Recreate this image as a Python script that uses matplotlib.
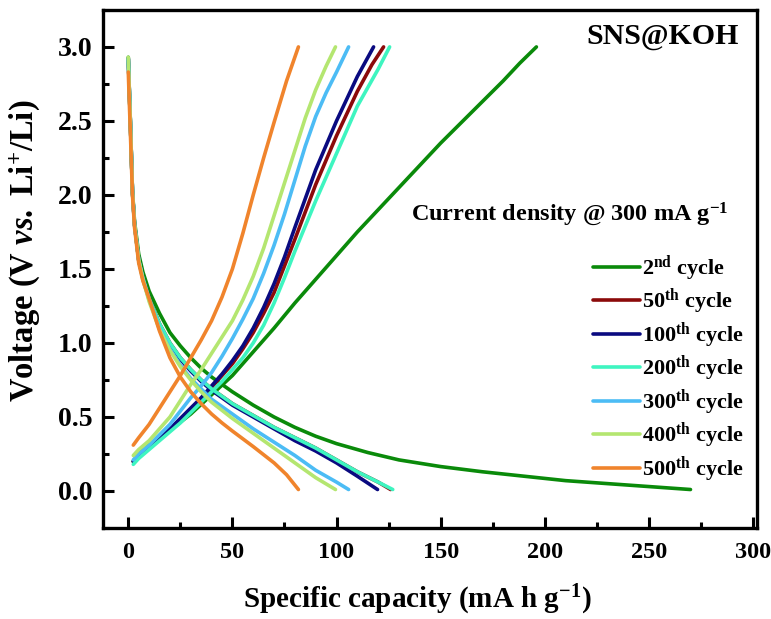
import matplotlib
matplotlib.use('Agg')
import matplotlib.pyplot as plt
from matplotlib.ticker import MultipleLocator

# Galvanostatic charge/discharge profiles, SNS@KOH, 300 mA g-1
labels = [r'2$^{\mathbf{nd}}$ cycle', r'50$^{\mathbf{th}}$ cycle', r'100$^{\mathbf{th}}$ cycle',
          r'200$^{\mathbf{th}}$ cycle', r'300$^{\mathbf{th}}$ cycle', r'400$^{\mathbf{th}}$ cycle',
          r'500$^{\mathbf{th}}$ cycle']
colors = ['#0a8a0a', '#8b0a0a', '#0a0a80', '#3ef5c0', '#4cbcf5', '#b4e670', '#f0842c']

# charge (delithiation) branches: capacity, voltage
chg_cap_2 = [2.4, 5, 10, 20, 30, 40, 50, 60, 70, 80, 90, 100, 110, 120, 130, 140, 150, 160, 170, 180, 188, 196]
chg_v_2 = [0.2, 0.25, 0.31, 0.41, 0.52, 0.65, 0.78, 0.94, 1.1, 1.27, 1.43, 1.59, 1.75, 1.9, 2.05,
           2.2, 2.35, 2.49, 2.63, 2.77, 2.89, 3.0]
chg_cap_50 = [2.4, 5, 10, 15, 20, 25, 30, 35, 40, 45, 50, 55, 60, 65, 70, 75, 80, 90, 100, 110, 117, 122.6]
chg_v_50 = [0.2, 0.24, 0.3, 0.36, 0.42, 0.48, 0.55, 0.62, 0.7, 0.78, 0.86, 0.96, 1.07, 1.2, 1.34,
            1.52, 1.7, 2.07, 2.4, 2.7, 2.88, 3.0]
chg_cap_100 = [2.4, 5, 10, 15, 20, 25, 30, 35, 40, 45, 50, 55, 60, 65, 70, 75, 80, 90, 100, 110, 117.8]
chg_v_100 = [0.2, 0.24, 0.3, 0.36, 0.42, 0.49, 0.56, 0.63, 0.71, 0.79, 0.88, 0.98, 1.1, 1.24, 1.4,
             1.58, 1.78, 2.17, 2.5, 2.8, 3.0]
chg_cap_200 = [2.4, 5, 10, 15, 20, 25, 30, 35, 40, 45, 50, 55, 60, 65, 70, 75, 80, 90, 100, 110, 120, 125.5]
chg_v_200 = [0.18, 0.22, 0.28, 0.34, 0.4, 0.46, 0.53, 0.6, 0.67, 0.74, 0.82, 0.9, 1.0, 1.12, 1.27,
             1.44, 1.62, 1.96, 2.28, 2.6, 2.85, 3.0]
chg_cap_300 = [2.4, 5, 10, 15, 20, 25, 30, 35, 40, 45, 50, 55, 60, 65, 70, 75, 80, 85, 90, 95, 100, 105.8]
chg_v_300 = [0.21, 0.25, 0.31, 0.38, 0.45, 0.54, 0.63, 0.71, 0.8, 0.91, 1.03, 1.16, 1.3, 1.47, 1.66,
             1.87, 2.1, 2.33, 2.53, 2.69, 2.83, 3.0]
chg_cap_400 = [2.4, 5, 10, 15, 20, 25, 30, 35, 40, 45, 50, 55, 60, 65, 70, 75, 80, 85, 90, 95, 99.5]
chg_v_400 = [0.24, 0.28, 0.34, 0.42, 0.5, 0.61, 0.72, 0.82, 0.93, 1.04, 1.15, 1.29, 1.45, 1.64, 1.86,
             2.08, 2.3, 2.52, 2.71, 2.87, 3.0]
chg_cap_500 = [2.4, 5, 10, 15, 20, 25, 30, 35, 40, 45, 50, 55, 60, 65, 70, 76, 81.7]
chg_v_500 = [0.31, 0.36, 0.45, 0.56, 0.67, 0.78, 0.9, 1.02, 1.15, 1.31, 1.5, 1.74, 2.0, 2.25, 2.49,
             2.77, 3.0]

# discharge (lithiation) branches
dis_cap_2 = [0, 0.5, 1, 2, 3, 5, 7, 10, 12, 15, 20, 25, 30, 35, 40, 50, 60, 70, 80, 90, 100, 115,
             130, 150, 170, 190, 210, 230, 250, 270]
dis_v_2 = [2.93, 2.7, 2.49, 2.03, 1.82, 1.6, 1.48, 1.35, 1.29, 1.2, 1.07, 0.98, 0.9, 0.83, 0.77,
           0.67, 0.58, 0.5, 0.43, 0.37, 0.32, 0.26, 0.21, 0.165, 0.13, 0.1, 0.07, 0.05, 0.03, 0.01]
dis_cap_50 = [0, 0.5, 1, 2, 3, 5, 7, 10, 15, 20, 25, 30, 35, 40, 50, 60, 70, 80, 90, 100, 110, 120, 126]
dis_v_50 = [2.92, 2.7, 2.49, 2.02, 1.8, 1.56, 1.44, 1.3, 1.13, 1.0, 0.9, 0.82, 0.75, 0.69, 0.59,
            0.51, 0.43, 0.36, 0.29, 0.21, 0.13, 0.06, 0.01]
dis_cap_100 = [0, 0.5, 1, 2, 3, 5, 7, 10, 15, 20, 25, 30, 35, 40, 50, 60, 70, 80, 90, 100, 110, 119.7]
dis_v_100 = [2.92, 2.7, 2.49, 2.02, 1.8, 1.56, 1.44, 1.3, 1.12, 0.99, 0.89, 0.81, 0.74, 0.68, 0.58,
             0.5, 0.42, 0.34, 0.27, 0.19, 0.1, 0.01]
dis_cap_200 = [0, 0.5, 1, 2, 3, 5, 7, 10, 15, 20, 25, 30, 35, 40, 50, 60, 70, 80, 90, 100, 110, 120, 127]
dis_v_200 = [2.92, 2.7, 2.49, 2.02, 1.8, 1.56, 1.44, 1.3, 1.13, 1.0, 0.9, 0.82, 0.75, 0.69, 0.59,
             0.51, 0.43, 0.36, 0.29, 0.21, 0.13, 0.06, 0.01]
dis_cap_300 = [0, 0.5, 1, 2, 3, 5, 7, 10, 15, 20, 25, 30, 35, 40, 50, 60, 70, 80, 90, 100, 105.8]
dis_v_300 = [2.92, 2.7, 2.49, 2.02, 1.8, 1.56, 1.43, 1.29, 1.1, 0.96, 0.85, 0.76, 0.69, 0.62, 0.52,
             0.42, 0.33, 0.24, 0.14, 0.06, 0.01]
dis_cap_400 = [0, 0.5, 1, 2, 3, 5, 7, 10, 15, 20, 25, 30, 35, 40, 50, 60, 70, 80, 90, 99.5]
dis_v_400 = [2.93, 2.7, 2.49, 2.02, 1.8, 1.56, 1.43, 1.28, 1.09, 0.95, 0.84, 0.75, 0.67, 0.6, 0.49,
             0.39, 0.29, 0.19, 0.09, 0.01]
dis_cap_500 = [0, 0.5, 1, 2, 3, 5, 7, 10, 15, 20, 25, 30, 35, 40, 45, 50, 60, 70, 76, 81.7]
dis_v_500 = [2.83, 2.62, 2.42, 2.0, 1.78, 1.54, 1.42, 1.3, 1.08, 0.9, 0.77, 0.67, 0.59, 0.52, 0.46,
             0.405, 0.3, 0.19, 0.11, 0.01]

charge = [(chg_cap_2, chg_v_2), (chg_cap_50, chg_v_50), (chg_cap_100, chg_v_100),
          (chg_cap_200, chg_v_200), (chg_cap_300, chg_v_300), (chg_cap_400, chg_v_400),
          (chg_cap_500, chg_v_500)]
discharge = [(dis_cap_2, dis_v_2), (dis_cap_50, dis_v_50), (dis_cap_100, dis_v_100),
             (dis_cap_200, dis_v_200), (dis_cap_300, dis_v_300), (dis_cap_400, dis_v_400),
             (dis_cap_500, dis_v_500)]

plt.rcParams['font.family'] = 'Liberation Serif'
plt.rcParams['font.weight'] = 'bold'
plt.rcParams['axes.labelweight'] = 'bold'
plt.rcParams['mathtext.fontset'] = 'custom'
plt.rcParams['mathtext.rm'] = 'Liberation Serif:bold'
plt.rcParams['mathtext.bf'] = 'Liberation Serif:bold'
plt.rcParams['mathtext.it'] = 'Liberation Serif:bold:italic'

fig = plt.figure(figsize=(7.71, 6.19), dpi=100)
ax = fig.add_axes([0.134, 0.147, 0.848, 0.837])

for (c, v), (dc, dv), col, lab in zip(charge, discharge, colors, labels):
    ax.plot(c, v, color=col, lw=2.6, label=lab, solid_capstyle='round', solid_joinstyle='round')
    ax.plot(dc, dv, color=col, lw=2.6, solid_capstyle='round', solid_joinstyle='round')

ax.set_xlim(-12, 302)
ax.set_ylim(-0.25, 3.25)
ax.xaxis.set_major_locator(MultipleLocator(50))
ax.xaxis.set_minor_locator(MultipleLocator(25))
ax.yaxis.set_major_locator(MultipleLocator(0.5))
ax.yaxis.set_minor_locator(MultipleLocator(0.25))
ax.tick_params(which='both', direction='in', width=2.2)
ax.tick_params(axis='x', labelsize=17.5, pad=10)
ax.tick_params(axis='y', labelsize=20, pad=8)
ax.tick_params(which='major', length=8)
ax.tick_params(which='minor', length=4)
for s in ax.spines.values():
    s.set_linewidth(2.4)

ax.set_xlabel(r'Specific capacity (mA h g$^{\mathbf{-1}}$)', fontsize=21)
ax.set_ylabel(r'Voltage (V $\mathit{vs.}$ Li$^{\mathbf{+}}$/Li)', fontsize=23.5)
ax.xaxis.set_label_coords(0.48, -0.105)
ax.yaxis.set_label_coords(-0.094, 0.535)

ax.text(0.972, 0.975, 'SNS@KOH', transform=ax.transAxes, ha='right', va='top', fontsize=21.5)
ax.text(0.956, 0.58, r'Current density @ 300 mA g$^{\mathbf{-1}}$', transform=ax.transAxes,
        ha='right', va='bottom', fontsize=17.5)

leg = ax.legend(loc='upper left', bbox_to_anchor=(0.749, 0.530), frameon=False, fontsize=16,
                handlelength=2.1, handletextpad=0.1, labelspacing=0.18, borderpad=0, borderaxespad=0)

fig.savefig('out.png', dpi=100, facecolor='white')
